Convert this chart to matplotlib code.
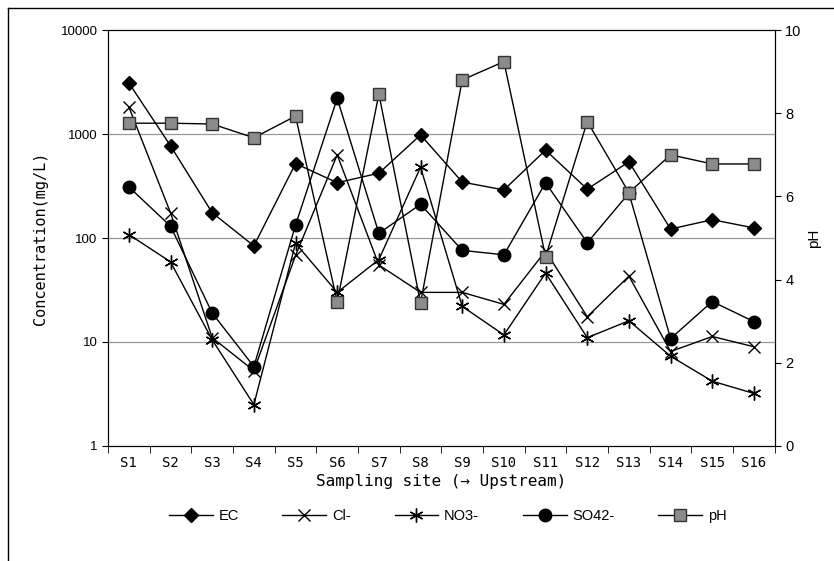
import matplotlib
matplotlib.use('Agg')
import matplotlib.pyplot as plt
from matplotlib.lines import Line2D

plt.rcParams.update({'font.size': 9, 'font.family': ['Liberation Sans', 'DejaVu Sans']})

sites = ['S1', 'S2', 'S3', 'S4', 'S5', 'S6', 'S7', 'S8',
         'S9', 'S10', 'S11', 'S12', 'S13', 'S14', 'S15', 'S16']
ec = [3100, 770, 175, 84, 520, 340, 420, 980, 345, 290, 700, 295, 540, 122, 150, 125]
cl = [1820, 175, 11, 5.3, 68, 630, 55, 30, 30, 23, 75, 17.5, 43, 8.1, 11.3, 9.0]
no3 = [108, 59, 10.5, 2.5, 89, 30, 62, 480, 22, 11.7, 46, 11, 16, 7.3, 4.2, 3.2]
so4 = [310, 130, 19, 5.8, 133, 2200, 111, 211, 76, 69, 340, 90, 270, 10.8, 24.5, 15.7]
ph = [7.76, 7.76, 7.74, 7.41, 7.93, 3.47, 8.46, 3.44, 8.8, 9.24, 4.55, 7.8, 6.09, 7.0, 6.78, 6.78]

label_font = ['DejaVu Sans Mono']

fig = plt.figure(figsize=(8.34, 5.61), dpi=100)
ax = fig.add_axes([0.1295, 0.205, 0.7995, 0.7415])
x = list(range(len(sites)))

# grid lines at decades
for v in [10, 100, 1000]:
    ax.axhline(v, color='#999999', lw=0.9, zorder=0)

ax.plot(x, ec, color='black', lw=1, marker='D', ms=7, mfc='black', mec='black', zorder=3)
ax.plot(x, cl, color='black', lw=1, marker='x', ms=9, mew=1, zorder=3)
ax.plot(x, no3, color='black', lw=1, marker=(6, 2, 0), ms=10, mew=1, zorder=3)
ax.plot(x, so4, color='black', lw=1, marker='o', ms=9, mfc='black', zorder=3)

ax.set_yscale('log')
ax.set_ylim(1, 10000)
ax.set_xlim(-0.5, len(sites) - 0.5)
ax.set_yticks([1, 10, 100, 1000, 10000])
ax.set_yticklabels(['1', '10', '100', '1000', '10000'])
ax.minorticks_off()
ax.tick_params(axis='y', direction='out', length=4, labelsize=9.5)
ax.set_xticks(x)
ax.set_xticklabels(sites, family=label_font, fontsize=10)
ax.tick_params(axis='x', length=0, pad=7)
ax.set_xticks([i - 0.5 for i in range(len(sites) + 1)], minor=True)
ax.tick_params(axis='x', which='minor', direction='out', length=5)
ax.set_ylabel('Concentration(mg/L)', family=label_font, fontsize=11, labelpad=9)
ax.set_xlabel('Sampling site (→ Upstream)', family=label_font, fontsize=11.5, labelpad=3)

ax2 = ax.twinx()
ax2.plot(x, ph, color='black', lw=1, marker='s', ms=9, mfc='#8c8c8c', mec='#333333', zorder=4)
ax2.set_ylim(0, 10)
ax2.set_yticks([0, 2, 4, 6, 8, 10])
ax2.tick_params(axis='y', direction='out', length=4, labelsize=10.5)
ax2.set_ylabel('pH', fontsize=11, labelpad=4)

# legend below the plot
handles = [
    Line2D([], [], color='black', lw=1, marker='D', ms=7, mfc='black', label='EC'),
    Line2D([], [], color='black', lw=1, marker='x', ms=9, label='Cl-'),
    Line2D([], [], color='black', lw=1, marker=(6, 2, 0), ms=10, label='NO3-'),
    Line2D([], [], color='black', lw=1, marker='o', ms=9, mfc='black', label='SO42-'),
    Line2D([], [], color='black', lw=1, marker='s', ms=9, mfc='#8c8c8c', mec='#333333', label='pH'),
]
fig.legend(handles=handles, loc='center', bbox_to_anchor=(0.537, 0.08), ncol=5,
           frameon=False, fontsize=10.5, handlelength=3.0, columnspacing=3.0,
           handletextpad=0.4)

# outer frame (left and top edges)
fig.add_artist(Line2D([0.01, 0.01], [0.0, 0.986], transform=fig.transFigure, color='black', lw=1))
fig.add_artist(Line2D([0.01, 1.0], [0.986, 0.986], transform=fig.transFigure, color='black', lw=1))

fig.savefig('out.png', dpi=100)
